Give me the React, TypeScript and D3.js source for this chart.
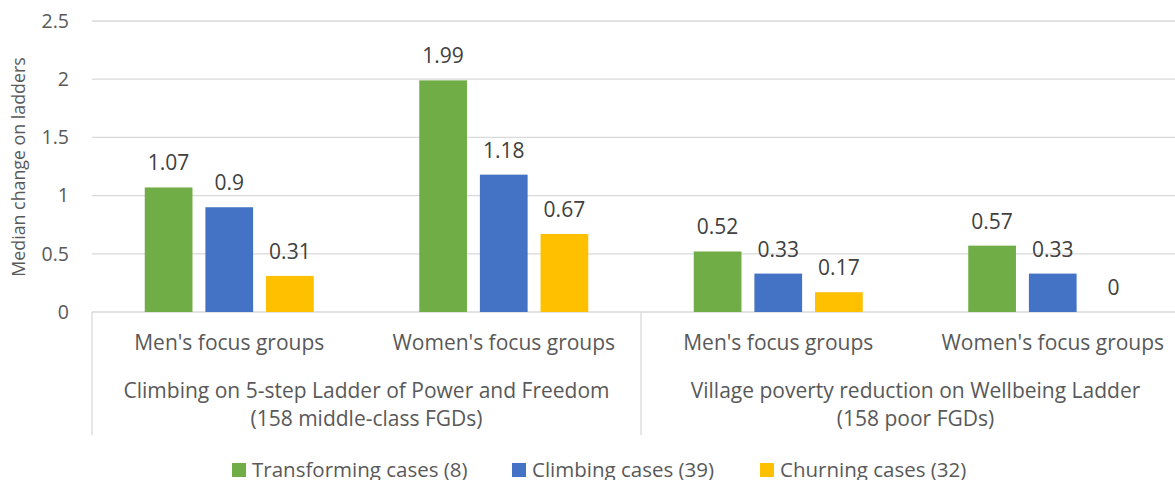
import React, { useRef, useEffect } from 'react';
import * as d3 from 'd3';

const categories = ["Men's focus groups", "Women's focus groups", "Men's focus groups", "Women's focus groups"];
const groupLabels = [
  ["Climbing on 5-step Ladder of Power and Freedom", "(158 middle-class FGDs)"],
  ["Village poverty reduction on Wellbeing Ladder", "(158 poor FGDs)"],
];
const seriesNames = ["Transforming cases (8)", "Climbing cases (39)", "Churning cases (32)"];
const transforming = [1.07, 1.99, 0.52, 0.57];
const climbing = [0.9, 1.18, 0.33, 0.33];
const churning = [0.31, 0.67, 0.17, 0];
const yTicks = [0, 0.5, 1, 1.5, 2, 2.5];
const colors = ["#70ad47", "#4472c4", "#ffc000"];

const FONT = "'Open Sans', sans-serif";

function drawChart(ref: React.RefObject<SVGSVGElement | null>) {
  const svg = d3.select(ref.current);
  svg.selectAll("*").remove();

  const left = 92, right = 1190, top = 21, bottom = 312;
  const values = [transforming, climbing, churning];

  const x0 = d3.scaleBand<number>()
    .domain(d3.range(categories.length))
    .range([left, right]);

  const x1 = d3.scaleBand<number>()
    .domain(d3.range(seriesNames.length))
    .range([0, 169])
    .paddingInner(0.213);

  const y = d3.scaleLinear().domain([0, 2.5]).range([bottom, top]);

  // gridlines
  svg.append("g")
    .selectAll("line")
    .data(yTicks)
    .join("line")
    .attr("x1", left)
    .attr("x2", right)
    .attr("y1", d => y(d))
    .attr("y2", d => y(d))
    .attr("stroke", "#d9d9d9")
    .attr("stroke-width", 1.3);

  // y tick labels
  svg.append("g")
    .selectAll("text")
    .data(yTicks)
    .join("text")
    .attr("x", 69)
    .attr("y", d => y(d))
    .attr("dy", "0.35em")
    .attr("text-anchor", "end")
    .attr("font-family", FONT)
    .attr("font-size", 19.5)
    .attr("fill", "#595959")
    .text(d => String(d));

  // y axis title
  svg.append("text")
    .attr("transform", `translate(25,167) rotate(-90)`)
    .attr("text-anchor", "middle")
    .attr("font-family", FONT)
    .attr("font-size", 17.8)
    .attr("fill", "#595959")
    .text("Median change on ladders");

  // bars
  const bw = x1.bandwidth();
  const cats = svg.append("g")
    .selectAll("g")
    .data(d3.range(categories.length))
    .join("g")
    .attr("transform", i => `translate(${x0(i)! + (x0.bandwidth() - 169) / 2},0)`);

  cats.selectAll("rect")
    .data(i => values.map((v, s) => ({ s, v: v[i] })))
    .join("rect")
    .attr("x", d => x1(d.s)!)
    .attr("y", d => y(d.v))
    .attr("width", bw)
    .attr("height", d => y(0) - y(d.v))
    .attr("fill", d => colors[d.s]);

  cats.selectAll("text")
    .data(i => values.map((v, s) => ({ s, v: v[i] })))
    .join("text")
    .attr("x", d => x1(d.s)! + bw / 2)
    .attr("y", d => y(d.v) - 17)
    .attr("text-anchor", "middle")
    .attr("font-family", FONT)
    .attr("font-size", 21)
    .attr("fill", "#404040")
    .text(d => String(d.v));

  // category axis lines
  const groupEdges = [0, 2, 4];
  svg.append("g")
    .selectAll("line")
    .data(groupEdges)
    .join("line")
    .attr("x1", i => left + i * x0.bandwidth())
    .attr("x2", i => left + i * x0.bandwidth())
    .attr("y1", bottom)
    .attr("y2", 435)
    .attr("stroke", "#d9d9d9")
    .attr("stroke-width", 1.3);

  svg.append("g")
    .selectAll("text")
    .data(categories)
    .join("text")
    .attr("x", (d, i) => x0(i)! + x0.bandwidth() / 2)
    .attr("y", 350)
    .attr("text-anchor", "middle")
    .attr("font-family", FONT)
    .attr("font-size", 21)
    .attr("fill", "#595959")
    .text(d => d);

  const groupsG = svg.append("g")
    .selectAll("text")
    .data(groupLabels)
    .join("text")
    .attr("text-anchor", "middle")
    .attr("font-family", FONT)
    .attr("font-size", 21)
    .attr("fill", "#595959");

  groupsG.selectAll("tspan")
    .data((d, gi) => d.map(t => ({ t, gi })))
    .join("tspan")
    .attr("x", d => left + (d.gi * 2 + 1) * x0.bandwidth())
    .attr("y", (d, li) => 398 + li * 28)
    .text(d => d.t);

  // legend
  const legendX = [232, 512, 760];
  const lg = svg.append("g")
    .selectAll("g")
    .data(seriesNames)
    .join("g")
    .attr("transform", (d, i) => `translate(${legendX[i]},0)`);

  lg.append("rect")
    .attr("y", 463)
    .attr("width", 14)
    .attr("height", 14)
    .attr("fill", (d, i) => colors[i]);

  lg.append("text")
    .attr("x", 20)
    .attr("y", 477)
    .attr("font-family", FONT)
    .attr("font-size", 20.5)
    .attr("fill", "#595959")
    .text(d => d);
}

export default function App() {
  const ref = useRef<SVGSVGElement>(null);

  useEffect(() => {
    drawChart(ref);
  }, []);

  return (
    <svg
      ref={ref}
      width={1175}
      height={480}
      style={{ position: 'absolute', left: 0, top: 0, background: '#fff' }}
    />
  );
}
